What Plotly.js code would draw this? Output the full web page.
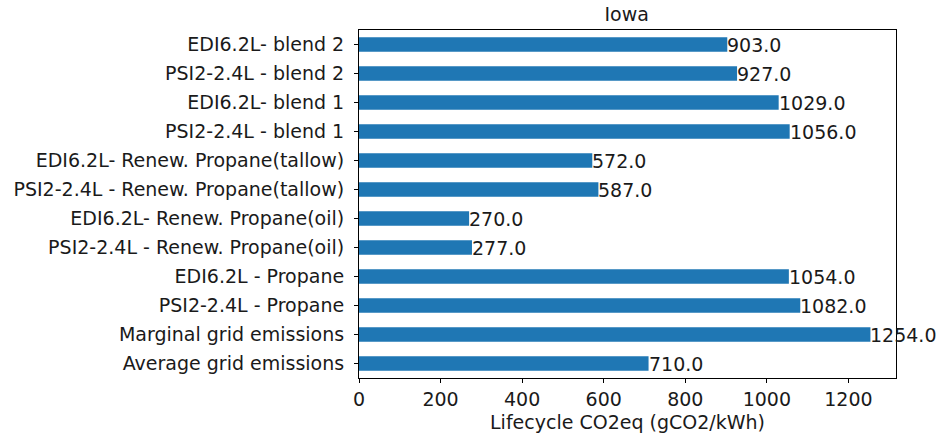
<!DOCTYPE html>
<html>
<head>
<meta charset="utf-8">
<script src="https://cdn.plot.ly/plotly-3.0.1.min.js"></script>
<style>html,body{margin:0;padding:0;background:#fff;}#chart{width:948px;height:436px;}</style>
</head>
<body>
<div id="chart"></div>
<script>
// Categories listed bottom to top
const categories = [
  "Average grid emissions",
  "Marginal grid emissions",
  "PSI2-2.4L - Propane",
  "EDI6.2L - Propane",
  "PSI2-2.4L - Renew. Propane(oil)",
  "EDI6.2L- Renew. Propane(oil)",
  "PSI2-2.4L - Renew. Propane(tallow)",
  "EDI6.2L- Renew. Propane(tallow)",
  "PSI2-2.4L - blend 1",
  "EDI6.2L- blend 1",
  "PSI2-2.4L - blend 2",
  "EDI6.2L- blend 2"
];
const values = [710, 1254, 1082, 1054, 277, 270, 587, 572, 1056, 1029, 927, 903];
const xTicks = [0, 200, 400, 600, 800, 1000, 1200];
const titleText = "Iowa";
const xTitle = "Lifecycle CO2eq (gCO2/kWh)";

const font = {family: "DejaVu Sans", size: 19, color: "#1a1a1a"};

const trace = {
  type: "bar",
  orientation: "h",
  x: values,
  y: categories,
  width: 0.5,
  marker: {color: "#1f77b4", line: {width: 0}},
  hoverinfo: "none"
};

const annotations = values.map((v, i) => ({
  x: v, y: categories[i], xref: "x", yref: "y",
  text: v.toFixed(1), showarrow: false, xanchor: "left", yanchor: "middle",
  font: font, borderpad: 0, xshift: -1
}));

const layout = {
  width: 948, height: 436,
  margin: {l: 359, r: 52, t: 30, b: 58, pad: 0},
  paper_bgcolor: "#fff", plot_bgcolor: "#fff",
  font: font,
  showlegend: false,
  title: {text: titleText, font: font, x: 0.661, xanchor: "center", y: 0.968, yanchor: "middle"},
  xaxis: {
    range: [0, 1254 * 1.05],
    tickvals: xTicks, ticktext: xTicks.map(String),
    ticks: "outside", ticklen: 4, tickwidth: 1, tickcolor: "#000",
    showgrid: false, zeroline: false,
    showline: true, linecolor: "#000", linewidth: 1, mirror: true,
    tickfont: font,
    title: {text: xTitle, font: font, standoff: 6}
  },
  yaxis: {
    type: "category",
    categoryorder: "array", categoryarray: categories,
    range: [-0.5, 11.5],
    ticks: "outside", ticklen: 4, tickwidth: 1, tickcolor: "#000",
    showgrid: false, zeroline: false,
    showline: true, linecolor: "#000", linewidth: 1, mirror: true,
    tickfont: font, ticksuffix: " "
  },
  annotations: annotations
};

Plotly.newPlot("chart", [trace], layout, {staticPlot: true, displayModeBar: false});
</script>
</body>
</html>
